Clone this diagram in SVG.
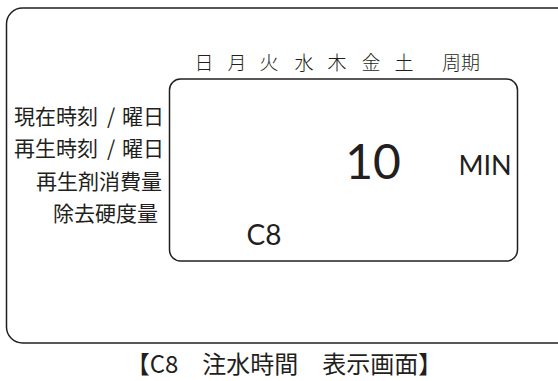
<svg xmlns="http://www.w3.org/2000/svg" width="558" height="381" viewBox="0 0 558 381">
<style>
.box{fill:#fff;stroke:#231f20;stroke-width:1.5}
.jp{font-family:"Noto Sans CJK JP","Noto Sans",sans-serif;fill:#231f20}
.lt{font-weight:300}
.num{font-family:"Lato","Noto Sans",sans-serif;fill:#231f20}
</style>
<rect width="558" height="381" fill="#fff"/>
<g id="outer-panel">
<rect class="box" x="6.5" y="8" width="570" height="335" rx="16"/>
</g>
<g id="weekdays" class="jp lt" font-size="19" text-anchor="middle">
<text x="204" y="70">日</text>
<text x="237" y="70">月</text>
<text x="269" y="70">火</text>
<text x="304" y="70">水</text>
<text x="337" y="70">木</text>
<text x="371" y="70">金</text>
<text x="404" y="70">土</text>
<text x="461" y="70">周期</text>
</g>
<g id="labels" class="jp" font-size="21">
<text x="14" y="124">現在時刻</text>
<text x="111" y="124" text-anchor="middle">/</text>
<text x="164" y="124" text-anchor="end">曜日</text>
<text x="14" y="156">再生時刻</text>
<text x="111" y="156" text-anchor="middle">/</text>
<text x="164" y="156" text-anchor="end">曜日</text>
<text x="162" y="189" text-anchor="end">再生剤消費量</text>
<text x="158" y="221" text-anchor="end">除去硬度量</text>
</g>
<g id="display">
<rect class="box" x="169.5" y="79" width="348" height="182" rx="11"/>
<text class="num" x="373" y="179" font-size="48" text-anchor="middle">10</text>
<text class="num" x="485" y="175" font-size="27" text-anchor="middle">MIN</text>
<text class="num" x="264" y="245" font-size="28" text-anchor="middle">C8</text>
</g>
<g id="caption">
<text class="jp" x="284" y="373" font-size="24" text-anchor="middle">【C8　注水時間　表示画面】</text>
</g>
</svg>
